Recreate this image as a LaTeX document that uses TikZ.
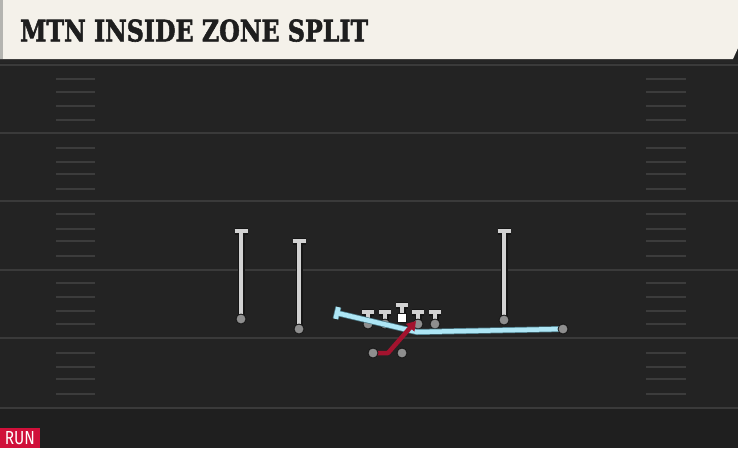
\documentclass[tikz,border=0pt]{standalone}
\usepackage{fontspec}
\setmainfont{DejaVu Serif}
\newfontfamily\titlefont[BoldFeatures={FakeBold=2}]{DejaVu Serif}
\newfontfamily\runfont{Fira Sans}
\usetikzlibrary{calc,arrows.meta}
\definecolor{fieldbg}{HTML}{232323}
\definecolor{fieldbot}{HTML}{1F1F1F}
\definecolor{yardln}{HTML}{3A3A3A}
\definecolor{hashln}{HTML}{3C3C3C}
\definecolor{headbg}{HTML}{F4F1EA}
\definecolor{headside}{HTML}{B4B4B0}
\definecolor{titlecol}{HTML}{1E1E1E}
\definecolor{plout}{HTML}{161616}
\definecolor{plin}{HTML}{D2D2D2}
\definecolor{pldot}{HTML}{8E8E8E}
\definecolor{blueln}{HTML}{AEE6F5}
\definecolor{blueout}{HTML}{4F7F8C}
\definecolor{redln}{HTML}{A3132E}
\definecolor{runred}{HTML}{D0103A}
\tikzset{
  yard/.style={draw=yardln,line width=2pt},
  hashm/.style={draw=hashln,line width=1.6pt},
  outl/.style={draw=plout,line width=7pt},
  inl/.style={draw=plin,line width=4.6pt},
  pdot/.style={circle,fill=pldot,draw=plout,line width=0.8pt,minimum size=10pt,inner sep=0pt},
  cbox/.style={rectangle,fill=white,draw=plout,line width=0.6pt,minimum size=9pt,inner sep=0pt},
  bluepathout/.style={draw=blueout,line width=6pt,line join=round},
  bluepath/.style={draw=blueln,line width=4.5pt,line join=round},
  redpath/.style={draw=redln,line width=4.5pt,line join=round},
}
\newcommand{\plyr}[5]{% name, x, ytop, ybot, halfbar
  \draw[outl] (#2-#5,#3)--(#2+#5,#3) (#2,#3)--(#2,#4);
  \draw[inl] (#2-#5,#3)--(#2+#5,#3) (#2,#3)--(#2,#4);
  \node[pdot] (#1) at (#2,#4) {};
}
\begin{document}
\begin{tikzpicture}[x=1pt,y=-1pt]
\useasboundingbox (0,0) rectangle (738,448);
% field
\fill[fieldbg] (0,0) rectangle (738,448);
\fill[fieldbot] (0,408) rectangle (738,448);
\fill[black!85] (0,59) rectangle (738,63);
% yard lines
\foreach \yy in {65,133,201,270,338,408}{
  \draw[yard] (0,\yy) -- (738,\yy);
}
% hash marks
\foreach \yy in {79,92,106,120,148,162,174,189,214,229,241,256,283,297,311,324,353,367,379,394}{
  \draw[hashm] (56,\yy) -- (95,\yy);
  \draw[hashm] (646,\yy) -- (686,\yy);
}
% header
\fill[headbg] (0,0) -- (738,0) -- (738,48) -- (733,59) -- (0,59) -- cycle;
\fill[headside] (0,0) rectangle (3,59);
\node[anchor=south west,inner sep=0pt,text=titlecol] (title) at (20,42)
  {\resizebox{348pt}{22pt}{\titlefont\bfseries MTN INSIDE ZONE SPLIT}};
% receivers
\plyr{wl}{241}{231}{319}{6.5}
\plyr{sl}{299}{241}{329}{6.5}
\plyr{wr}{504}{231}{320}{6.5}
% offensive line
\plyr{lt}{368}{312}{324}{6}
\plyr{lg}{385}{312}{324}{6}
\plyr{rg}{418}{312}{324}{6}
\plyr{rt}{435}{312}{324}{6}
\draw[outl] (396,305)--(408,305) (402,305)--(402,316);
\draw[inl] (396,305)--(408,305) (402,305)--(402,316);
\node[cbox] (ctr) at (402,318) {};
% split back blue path
\node[pdot] (hb) at (563,329) {};
\coordinate (kink) at (417,332);
\coordinate (blk) at (337,313);
\coordinate (blka) at ($(blk)!6pt!90:(kink)$);
\coordinate (blkb) at ($(blk)!6pt!-90:(kink)$);
\draw[bluepathout] (hb.center) -- (kink) -- (blk);
\draw[bluepathout] (blka) -- (blkb);
\draw[bluepath] (hb.center) -- (kink) -- (blk);
\draw[bluepath] (blka) -- (blkb);
\node[pdot] at (hb) {};
% running back red path
\coordinate (rbturn) at (388,353);
\coordinate (aim) at (416,321);
\draw[redpath,-{Triangle[length=9pt,width=11pt]}] (373,353) -- (rbturn) -- (aim);
\node[pdot] (rb) at (373,353) {};
\node[pdot] (qb) at (402,353) {};
% run tag
\fill[runred] (0,428) rectangle (40,448);
\node[inner sep=0pt,text=white] (run) at (20,438.5)
  {\resizebox{30pt}{13pt}{\runfont RUN}};
\end{tikzpicture}
\end{document}
